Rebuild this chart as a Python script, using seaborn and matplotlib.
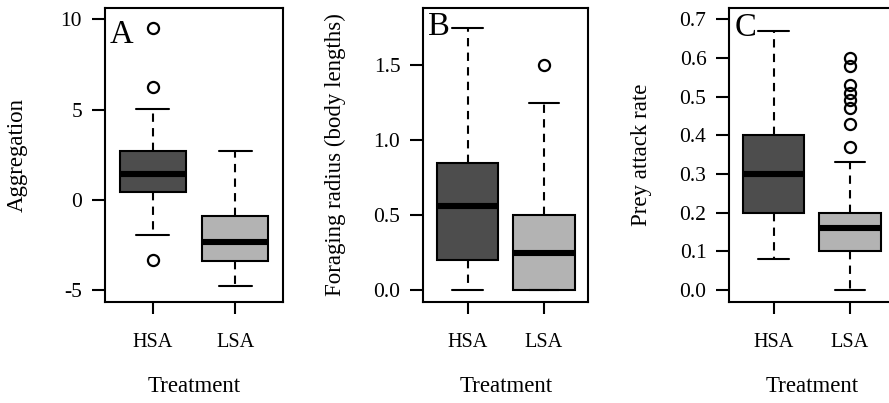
import numpy as np
import pandas as pd
import matplotlib
matplotlib.use("Agg")
import matplotlib.pyplot as plt
import seaborn as sns

# Treatment groups shared by all three panels
treatments = ["HSA", "LSA"]
box_colors = {"HSA": "#4d4d4d", "LSA": "#b3b3b3"}

# Panel A: aggregation index (five-number summaries + outlying values)
agg_lo = [-1.95, -4.80]
agg_q1 = [0.42, -3.42]
agg_med = [1.45, -2.35]
agg_q3 = [2.72, -0.92]
agg_hi = [5.05, 2.68]
agg_out = [[-3.35, 6.25, 9.55], []]

# Panel B: foraging radius in body lengths
rad_lo = [0.0, 0.0]
rad_q1 = [0.20, 0.0]
rad_med = [0.56, 0.25]
rad_q3 = [0.845, 0.50]
rad_hi = [1.75, 1.25]
rad_out = [[], [1.50]]

# Panel C: prey attack rate
atk_lo = [0.08, 0.0]
atk_q1 = [0.20, 0.10]
atk_med = [0.30, 0.16]
atk_q3 = [0.40, 0.20]
atk_hi = [0.67, 0.33]
atk_out = [[], [0.37, 0.43, 0.47, 0.49, 0.51, 0.53, 0.58, 0.60]]


def observations(lo, q1, med, q3, hi, outs):
    """Ordered sample of size 4k+1 whose quartiles, median and whisker
    ends reproduce the given summary (linear-interpolation quantiles)."""
    low = sorted(v for v in outs if v < lo)
    high = sorted(v for v in outs if v > hi)
    k = max(len(low), len(high)) + 1
    vals = list(low) + [lo]
    vals += [q1] * (k - len(low))
    vals += [med] * k
    vals += [q3] * k
    vals += [q3] * (k - len(high) - 1)
    vals += [hi] + list(high)
    return vals


def frame(lo, q1, med, q3, hi, outs):
    rows = []
    for i, t in enumerate(treatments):
        for v in observations(lo[i], q1[i], med[i], q3[i], hi[i], outs[i]):
            rows.append({"Treatment": t, "value": v})
    return pd.DataFrame(rows)


panels = [
    dict(df=frame(agg_lo, agg_q1, agg_med, agg_q3, agg_hi, agg_out),
         ylabel="Aggregation", letter="A",
         yticks=[-5, 0, 5, 10], yticklabels=["-5", "0", "5", "10"],
         ylim=(-5.65, 10.62),
         rect=[105, 8.3, 178, 293.4], letter_y=43.3),
    dict(df=frame(rad_lo, rad_q1, rad_med, rad_q3, rad_hi, rad_out),
         ylabel="Foraging radius (body lengths)", letter="B",
         yticks=[0, 0.5, 1.0, 1.5], yticklabels=["0.0", "0.5", "1.0", "1.5"],
         ylim=(-0.078, 1.878),
         rect=[423.3, 8.3, 165, 293.4], letter_y=35.0),
    dict(df=frame(atk_lo, atk_q1, atk_med, atk_q3, atk_hi, atk_out),
         ylabel="Prey attack rate", letter="C",
         yticks=[0, 0.1, 0.2, 0.3, 0.4, 0.5, 0.6, 0.7],
         yticklabels=["0.0", "0.1", "0.2", "0.3", "0.4", "0.5", "0.6", "0.7"],
         ylim=(-0.030, 0.728),
         rect=[729.3, 8.3, 165, 293.4], letter_y=36.0),
]

sns.set_theme(style="ticks")
plt.rcParams.update({
    "font.family": ["Liberation Serif", "DejaVu Serif"],
    "text.color": "black",
    "axes.labelcolor": "black",
    "axes.edgecolor": "black",
    "axes.linewidth": 1.5,
    "xtick.color": "black",
    "ytick.color": "black",
    "xtick.direction": "out",
    "ytick.direction": "out",
    "xtick.major.size": 8.5,
    "ytick.major.size": 9.5,
    "xtick.major.width": 1.5,
    "ytick.major.width": 1.5,
    "xtick.major.pad": 14,
    "ytick.major.pad": 7.0,
    "xtick.labelsize": 14.6,
    "ytick.labelsize": 15.5,
    "axes.labelsize": 16.5,
})

W, H = 889, 403
fig = plt.figure(figsize=(W / 100, H / 100), dpi=100)

for p in panels:
    x0, top, w, h = p["rect"]
    ax = fig.add_axes([x0 / W, (H - top - h) / H, w / W, h / H])
    sns.boxplot(
        data=p["df"], x="Treatment", y="value", hue="Treatment",
        order=treatments, hue_order=treatments, palette=box_colors,
        saturation=1, width=0.8, whis=1.5, legend=False, ax=ax,
        linecolor="black", linewidth=1.5, fliersize=8,
        medianprops=dict(linewidth=4.4, solid_capstyle="butt", color="black"),
        whiskerprops=dict(linestyle=(0, (4, 3)), color="black"),
        capprops=dict(color="black"),
        flierprops=dict(marker="o", markerfacecolor="none",
                        markeredgecolor="black", markeredgewidth=1.6),
        capwidths=0.4,
    )
    ax.set_xlim(-0.58, 1.58)
    ax.set_ylim(*p["ylim"])
    ax.set_yticks(p["yticks"])
    ax.set_yticklabels(p["yticklabels"])
    ax.set_xticks([0, 1])
    ax.set_xticklabels(treatments)
    for s in ax.spines.values():
        s.set_visible(True)
        s.set_linewidth(1.5)
    ax.set_xlabel("Treatment", va="center")
    ax.xaxis.set_label_coords(0.5, -(387 - (top + h)) / h)
    ax.set_ylabel(p["ylabel"], va="center")
    ax.yaxis.set_label_coords(-88 / w, 0.5)
    ax.text(5 / w, 1 - (p["letter_y"] - top) / h, p["letter"],
            transform=ax.transAxes, ha="left", va="baseline", fontsize=23.5)

fig.savefig("out.png", dpi=100)
